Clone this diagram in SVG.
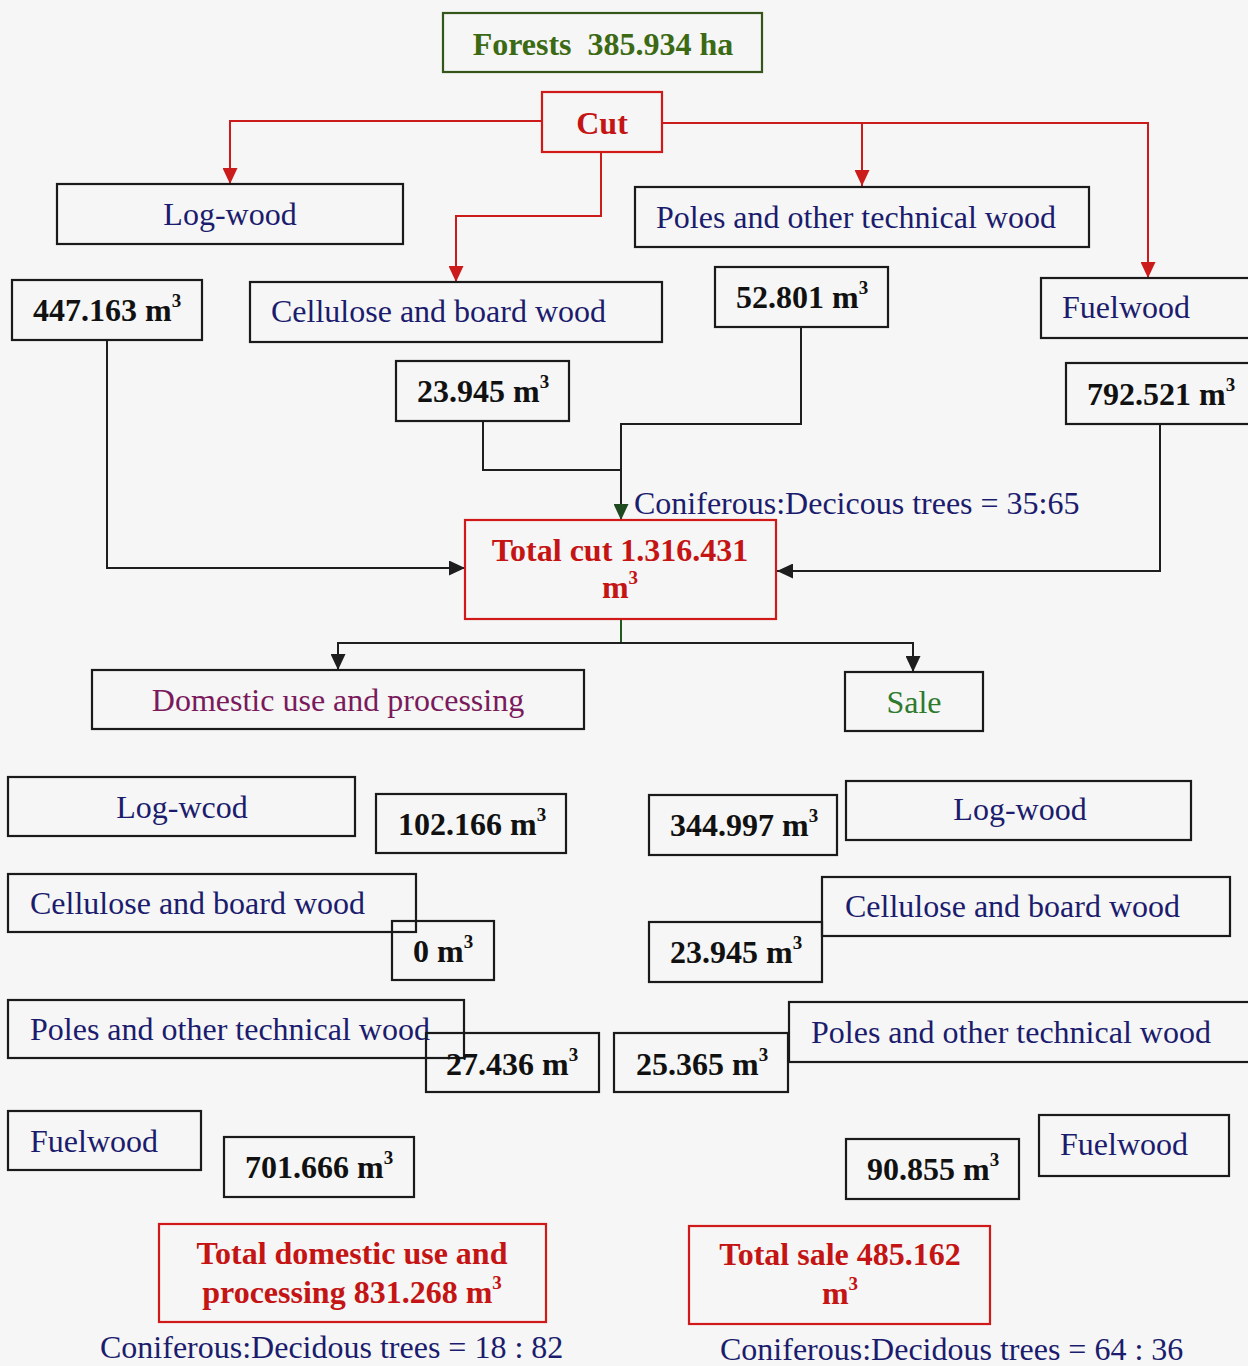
<svg xmlns="http://www.w3.org/2000/svg" width="1248" height="1366" viewBox="0 0 1248 1366">
  <style>
    .box { fill: none; stroke: #1a1a1a; stroke-width: 2.2; }
    .rbox { fill: none; stroke: #d01a1a; stroke-width: 2.2; }
    .gbox { fill: none; stroke: #35561a; stroke-width: 2.2; }
    text { font-family: "Liberation Serif", "Times New Roman", serif; font-size: 32px; }
    .lbl { fill: #1c1c6e; }
    .num { fill: #111; font-weight: bold; }
    .red { fill: #c41414; font-weight: bold; }
    .grn { fill: #3c6a14; font-weight: bold; }
    .sale { fill: #2e7a2e; }
    .dom { fill: #7a1a5c; }
    .mid { text-anchor: middle; }
    .sup { font-size: 19px; }
    .rl { fill: none; stroke: #cc1b1b; stroke-width: 2; }
    .bl { fill: none; stroke: #1e1e1e; stroke-width: 2; }
    .gl { fill: none; stroke: #1f5a1f; stroke-width: 2; }
  </style>
  <defs>
    <marker id="arR" markerUnits="userSpaceOnUse" markerWidth="16" markerHeight="15" refX="16" refY="7.5" orient="auto">
      <path d="M0,0 L16,7.5 L0,15 z" fill="#cc1b1b"/>
    </marker>
    <marker id="arB" markerUnits="userSpaceOnUse" markerWidth="16" markerHeight="15" refX="16" refY="7.5" orient="auto">
      <path d="M0,0 L16,7.5 L0,15 z" fill="#1e1e1e"/>
    </marker>
    <marker id="arG" markerUnits="userSpaceOnUse" markerWidth="16" markerHeight="15" refX="16" refY="7.5" orient="auto">
      <path d="M0,0 L16,7.5 L0,15 z" fill="#1f4a1f"/>
    </marker>
  </defs>

  <rect width="1248" height="1366" fill="#f5f6f5"/>

  <!-- connectors -->
  <g id="connectors">
    <path class="rl" d="M542,121 H230 V184" marker-end="url(#arR)"/>
    <path class="rl" d="M601,152 V216 H456 V282" marker-end="url(#arR)"/>
    <path class="rl" d="M662,123 H1148 V278" marker-end="url(#arR)"/>
    <path class="rl" d="M862,123 V186" marker-end="url(#arR)"/>
    <path class="bl" d="M107,340 V568 H465" marker-end="url(#arB)"/>
    <path class="bl" d="M483,421 V470 H621"/>
    <path class="bl" d="M801,327 V424 H621 V520" marker-end="url(#arG)"/>
    <path class="bl" d="M1160,424 V571 H777" marker-end="url(#arB)"/>
    <path class="gl" d="M621,619 V643"/>
    <path class="bl" d="M621,643 H338 V670" marker-end="url(#arB)"/>
    <path class="bl" d="M621,643 H913 V672" marker-end="url(#arB)"/>
  </g>

  <!-- top: forest and cut -->
  <g id="forests">
    <rect class="gbox" x="443" y="13" width="319" height="59"/>
    <text class="grn mid" x="603" y="55" xml:space="preserve">Forests  385.934 ha</text>
  </g>
  <g id="cut">
    <rect class="rbox" x="542" y="92" width="120" height="60"/>
    <text class="red mid" x="602" y="134">Cut</text>
  </g>

  <!-- cut assortments -->
  <g id="cut-logwood">
    <rect class="box" x="57" y="184" width="346" height="60"/>
    <text class="lbl mid" x="230" y="225">Log-wood</text>
  </g>
  <g id="cut-poles">
    <rect class="box" x="635" y="187" width="454" height="60"/>
    <text class="lbl" x="656" y="228">Poles and other technical wood</text>
  </g>
  <g id="cut-logwood-vol">
    <rect class="box" x="12" y="280" width="190" height="60"/>
    <text class="num" x="33" y="321">447.163 m<tspan class="sup" dy="-14">3</tspan></text>
  </g>
  <g id="cut-cellulose">
    <rect class="box" x="250" y="282" width="412" height="60"/>
    <text class="lbl" x="271" y="322">Cellulose and board wood</text>
  </g>
  <g id="cut-poles-vol">
    <rect class="box" x="715" y="267" width="173" height="60"/>
    <text class="num" x="736" y="308">52.801 m<tspan class="sup" dy="-14">3</tspan></text>
  </g>
  <g id="cut-fuelwood">
    <rect class="box" x="1041" y="278" width="220" height="60"/>
    <text class="lbl" x="1062" y="318">Fuelwood</text>
  </g>
  <g id="cut-cellulose-vol">
    <rect class="box" x="396" y="361" width="173" height="60"/>
    <text class="num" x="417" y="402">23.945 m<tspan class="sup" dy="-14">3</tspan></text>
  </g>
  <g id="cut-fuelwood-vol">
    <rect class="box" x="1066" y="363" width="200" height="61"/>
    <text class="num" x="1087" y="405">792.521 m<tspan class="sup" dy="-14">3</tspan></text>
  </g>

  <!-- total cut -->
  <g id="total-cut">
    <text class="lbl" x="634" y="514">Coniferous:Decicous trees = 35:65</text>
    <rect class="rbox" x="465" y="520" width="311" height="99"/>
    <text class="red mid" x="620" y="561">Total cut 1.316.431</text>
    <text class="red mid" x="620" y="598">m<tspan class="sup" dy="-14">3</tspan></text>
  </g>

  <!-- use split -->
  <g id="domestic">
    <rect class="box" x="92" y="670" width="492" height="59"/>
    <text class="dom mid" x="338" y="711">Domestic use and processing</text>
  </g>
  <g id="sale">
    <rect class="box" x="845" y="672" width="138" height="59"/>
    <text class="sale mid" x="914" y="713">Sale</text>
  </g>

  <!-- domestic assortments -->
  <g id="dom-logwood">
    <rect class="box" x="8" y="777" width="347" height="59"/>
    <text class="lbl mid" x="182" y="818">Log-wcod</text>
  </g>
  <g id="dom-logwood-vol">
    <rect class="box" x="376" y="794" width="190" height="59"/>
    <text class="num" x="398" y="835">102.166 m<tspan class="sup" dy="-14">3</tspan></text>
  </g>
  <g id="dom-cellulose">
    <rect class="box" x="8" y="874" width="408" height="58"/>
    <text class="lbl" x="30" y="914">Cellulose and board wood</text>
  </g>
  <g id="dom-cellulose-vol">
    <rect class="box" x="392" y="921" width="102" height="59"/>
    <text class="num" x="413" y="962">0 m<tspan class="sup" dy="-14">3</tspan></text>
  </g>
  <g id="dom-poles">
    <rect class="box" x="8" y="1000" width="456" height="58"/>
    <text class="lbl" x="30" y="1040">Poles and other technical wood</text>
  </g>
  <g id="dom-poles-vol">
    <rect class="box" x="426" y="1033" width="173" height="59"/>
    <text class="num" x="446" y="1075">27.436 m<tspan class="sup" dy="-14">3</tspan></text>
  </g>
  <g id="dom-fuelwood">
    <rect class="box" x="8" y="1111" width="193" height="59"/>
    <text class="lbl" x="30" y="1152">Fuelwood</text>
  </g>
  <g id="dom-fuelwood-vol">
    <rect class="box" x="224" y="1137" width="190" height="60"/>
    <text class="num" x="245" y="1178">701.666 m<tspan class="sup" dy="-14">3</tspan></text>
  </g>
  <g id="total-domestic">
    <rect class="rbox" x="159" y="1224" width="387" height="98"/>
    <text class="red mid" x="352" y="1264">Total domestic use and</text>
    <text class="red mid" x="352" y="1303">processing 831.268 m<tspan class="sup" dy="-14">3</tspan></text>
    <text class="lbl" x="100" y="1358">Coniferous:Decidous trees = 18 : 82</text>
  </g>

  <!-- sale assortments -->
  <g id="sale-logwood-vol">
    <rect class="box" x="649" y="795" width="188" height="60"/>
    <text class="num" x="670" y="836">344.997 m<tspan class="sup" dy="-14">3</tspan></text>
  </g>
  <g id="sale-logwood">
    <rect class="box" x="846" y="781" width="345" height="59"/>
    <text class="lbl mid" x="1020" y="820">Log-wood</text>
  </g>
  <g id="sale-cellulose">
    <rect class="box" x="822" y="877" width="408" height="59"/>
    <text class="lbl" x="845" y="917">Cellulose and board wood</text>
  </g>
  <g id="sale-cellulose-vol">
    <rect class="box" x="649" y="922" width="173" height="60"/>
    <text class="num" x="670" y="963">23.945 m<tspan class="sup" dy="-14">3</tspan></text>
  </g>
  <g id="sale-poles">
    <rect class="box" x="789" y="1002" width="470" height="60"/>
    <text class="lbl" x="811" y="1043">Poles and other technical wood</text>
  </g>
  <g id="sale-poles-vol">
    <rect class="box" x="614" y="1033" width="174" height="59"/>
    <text class="num" x="636" y="1075">25.365 m<tspan class="sup" dy="-14">3</tspan></text>
  </g>
  <g id="sale-fuelwood-vol">
    <rect class="box" x="846" y="1139" width="173" height="60"/>
    <text class="num" x="867" y="1180">90.855 m<tspan class="sup" dy="-14">3</tspan></text>
  </g>
  <g id="sale-fuelwood">
    <rect class="box" x="1039" y="1115" width="190" height="61"/>
    <text class="lbl" x="1060" y="1155">Fuelwood</text>
  </g>
  <g id="total-sale">
    <rect class="rbox" x="689" y="1226" width="301" height="98"/>
    <text class="red mid" x="840" y="1265">Total sale 485.162</text>
    <text class="red mid" x="840" y="1304">m<tspan class="sup" dy="-14">3</tspan></text>
    <text class="lbl" x="720" y="1360">Coniferous:Decidous trees = 64 : 36</text>
  </g>
</svg>
